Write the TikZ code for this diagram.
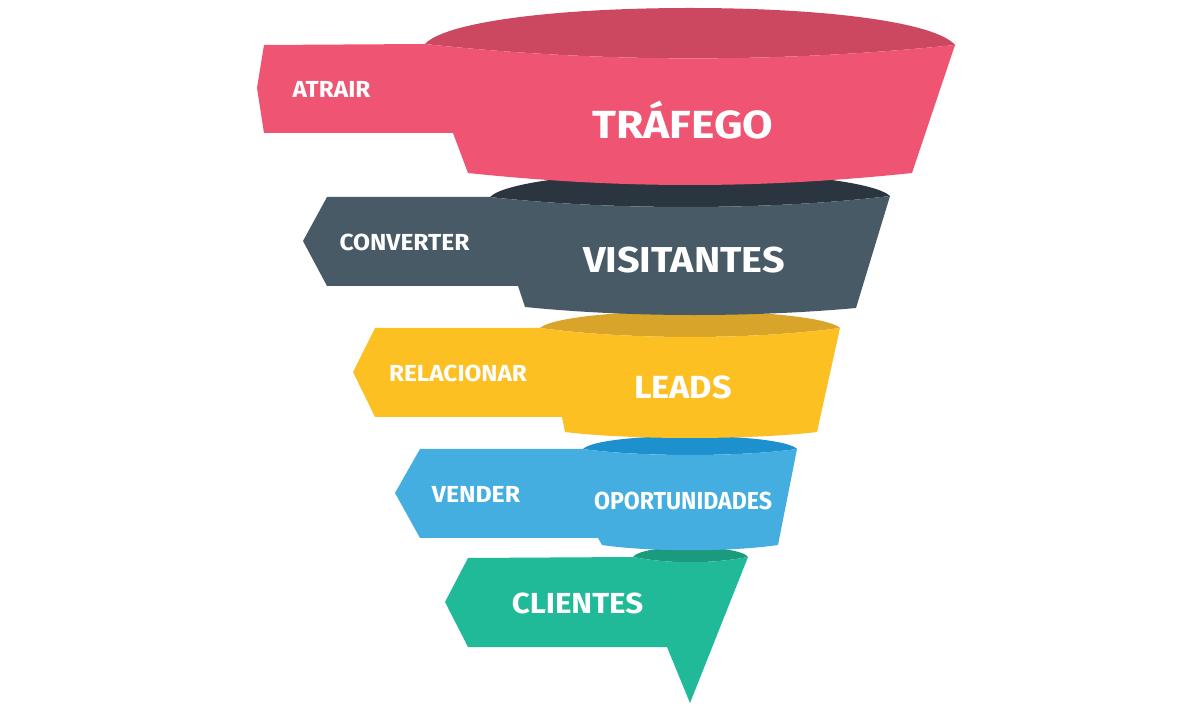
\documentclass[tikz,border=0pt]{standalone}
\usepackage{fontspec}
\usepackage{graphicx}
\setmainfont{Fira Sans}
\definecolor{pinkface}{HTML}{EF5573}
\definecolor{pinkcap}{HTML}{CC4760}
\definecolor{slateface}{HTML}{475A66}
\definecolor{slatecap}{HTML}{2B353F}
\definecolor{yelface}{HTML}{FDC022}
\definecolor{yelcap}{HTML}{D8A42A}
\definecolor{blueface}{HTML}{45AEE1}
\definecolor{bluecap}{HTML}{1D91CD}
\definecolor{greenface}{HTML}{20BA99}
\definecolor{greencap}{HTML}{1A9B7E}
\begin{document}
\begin{tikzpicture}[x=0.5pt,y=-0.5pt,
  lbl/.style={text=white,font=\bfseries,inner sep=0pt,anchor=base},
  small/.style={lbl,font=\fontsize{11.6}{12}\selectfont\bfseries}]
\useasboundingbox[fill=white] (0,0) rectangle (1200,705);

% ---- green (CLIENTES)
\fill[greencap] (633,557) .. controls (637,551) and (661,547) .. (690,547)
  .. controls (719,547) and (744,551) .. (748,557)
  .. controls (710,564) and (670,564) .. (633,557) -- cycle;
\fill[greenface] (468,558) -- (633,557) .. controls (670,564) and (710,564) .. (748,557)
  -- (690,703) -- (667,647) -- (468,647) -- (445,602) -- cycle;

% ---- blue (OPORTUNIDADES)
\fill[bluecap] (583,449) .. controls (591,441) and (636,436) .. (690,436)
  .. controls (744,436) and (789,441) .. (797,449)
  .. controls (740,457) and (640,457) .. (583,449) -- cycle;
\fill[blueface] (420,449) -- (583,449) .. controls (640,457) and (740,457) .. (797,449)
  -- (778,545) .. controls (730,552) and (650,552) .. (602,545)
  -- (598,538) -- (420,538) -- (395,493) -- cycle;

% ---- yellow (LEADS)
\fill[yelcap] (540,328) .. controls (551,318) and (615,311) .. (690,311)
  .. controls (765,311) and (829,318) .. (840,328)
  .. controls (750,340) and (630,340) .. (540,328) -- cycle;
\fill[yelface] (375,328) -- (540,328) .. controls (630,340) and (750,340) .. (840,328)
  -- (817,432) .. controls (750,440) and (630,440) .. (565,432)
  -- (562,417) -- (375,417) -- (353,372) -- cycle;

% ---- slate (VISITANTES)
\fill[slatecap] (490,197) .. controls (505,182) and (590,172) .. (690,172)
  .. controls (790,172) and (875,182) .. (890,196)
  .. controls (770,210.5) and (610,210.5) .. (490,197) -- cycle;
\fill[slateface] (327,197) -- (490,197) .. controls (610,210.5) and (770,210.5) .. (890,196)
  -- (856,308) .. controls (750,317.5) and (630,317.5) .. (525,307)
  -- (518,286) -- (327,286) -- (303,241) -- cycle;

% ---- pink (TRAFEGO)
\fill[pinkcap] (425,44) .. controls (445,22) and (555,8) .. (690,8)
  .. controls (825,8) and (935,22) .. (955,45)
  .. controls (780,63) and (600,63) .. (425,44) -- cycle;
\fill[pinkface] (264,45) -- (425,44) .. controls (600,63) and (780,63) .. (955,45)
  -- (912,173) .. controls (760,189) and (620,189) .. (468,173)
  -- (453,133) -- (264,133) -- (257,88) -- cycle;

% ---- texts
\node[small] (atrair) at (331.5,98) {\scalebox{1.05}[1]{ATRAIR}};
\node[lbl,font=\fontsize{19.6}{20}\selectfont\bfseries] (trafego) at (683,139) {\scalebox{1.13}[1]{TRÁFEGO}};
\node[small] (converter) at (404.5,251) {\scalebox{1.06}[1]{CONVERTER}};
\node[lbl,font=\fontsize{18}{19}\selectfont\bfseries] (visitantes) at (684,273) {\scalebox{1.10}[1]{VISITANTES}};
\node[small] (relacionar) at (458,382) {\scalebox{1.05}[1]{RELACIONAR}};
\node[lbl,font=\fontsize{16}{17}\selectfont\bfseries] (leads) at (683,399) {\scalebox{1.07}[1]{LEADS}};
\node[small] (vender) at (476,503) {\scalebox{1.07}[1]{VENDER}};
\node[lbl,font=\fontsize{12.3}{13}\selectfont\bfseries] (oport) at (683,510) {\scalebox{0.94}[1]{OPORTUNIDADES}};
\node[lbl,font=\fontsize{14.5}{15}\selectfont\bfseries] (clientes) at (577.5,613) {\scalebox{1.08}[1]{CLIENTES}};
\end{tikzpicture}
\end{document}
